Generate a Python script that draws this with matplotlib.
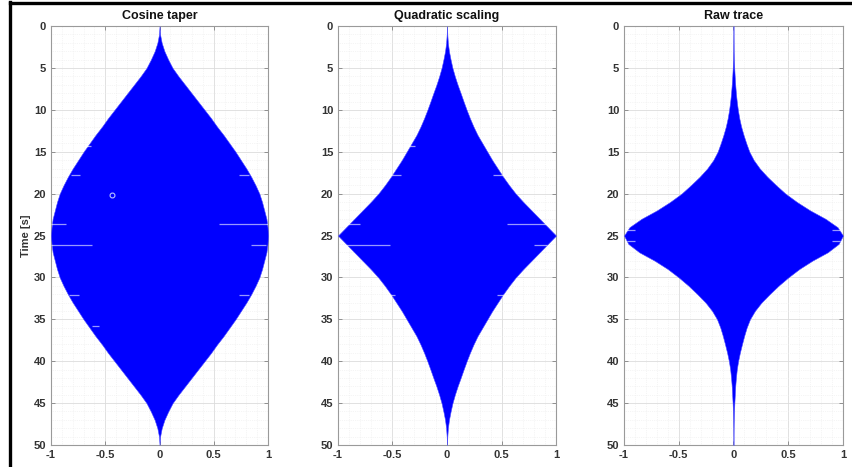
import matplotlib.pyplot as plt
import numpy as np
from matplotlib.lines import Line2D
from matplotlib.ticker import MultipleLocator

plt.rcParams['font.family'] = ['Liberation Sans', 'DejaVu Sans']
plt.rcParams['font.weight'] = 'bold'

# sample times [s] and envelope half-widths of each trace
time_s = np.arange(0, 51, 1)

cosine_env = [0.00, 0.005, 0.02, 0.045, 0.08, 0.12, 0.175, 0.235, 0.295, 0.355,
              0.415, 0.475, 0.53, 0.59, 0.645, 0.70, 0.75, 0.80, 0.845, 0.885,
              0.92, 0.945, 0.965, 0.985, 0.995, 1.00, 0.995, 0.985, 0.965, 0.945,
              0.92, 0.885, 0.845, 0.80, 0.75, 0.70, 0.645, 0.59, 0.53, 0.475,
              0.415, 0.355, 0.295, 0.235, 0.175, 0.12, 0.08, 0.045, 0.02, 0.005,
              0.00]

quad_env = [0.00, 0.003, 0.008, 0.018, 0.033, 0.05, 0.072, 0.097, 0.125, 0.152,
            0.18, 0.21, 0.243, 0.28, 0.325, 0.37, 0.415, 0.465, 0.515, 0.57,
            0.63, 0.70, 0.775, 0.85, 0.925, 1.00, 0.925, 0.85, 0.775, 0.70,
            0.63, 0.57, 0.515, 0.465, 0.415, 0.37, 0.325, 0.28, 0.243, 0.21,
            0.18, 0.152, 0.125, 0.097, 0.072, 0.05, 0.033, 0.018, 0.008, 0.003,
            0.00]

raw_env = [0.00, 0.0, 0.001, 0.002, 0.004, 0.007, 0.011, 0.016, 0.022, 0.03,
           0.04, 0.053, 0.07, 0.092, 0.117, 0.145, 0.185, 0.24, 0.31, 0.39,
           0.475, 0.58, 0.70, 0.84, 0.95, 1.00, 0.96, 0.86, 0.72, 0.60,
           0.50, 0.41, 0.33, 0.255, 0.195, 0.15, 0.12, 0.097, 0.077, 0.058,
           0.042, 0.03, 0.022, 0.016, 0.012, 0.008, 0.005, 0.003, 0.001, 0.0,
           0.00]

titles = ['Cosine taper', 'Quadratic scaling', 'Raw trace']
envelopes = [cosine_env, quad_env, raw_env]

# short gaps in the plotted trace: (time, x from, x to)
dropouts = [
    [(14.3, -0.72, -0.63), (17.8, -0.82, -0.73), (17.8, 0.73, 0.82),
     (23.6, -1.0, -0.86), (23.6, 0.55, 1.0), (26.1, -1.0, -0.62),
     (26.1, 0.84, 0.98), (32.1, -0.83, -0.74), (32.1, 0.73, 0.82),
     (35.8, -0.62, -0.56)],
    [(14.3, -0.35, -0.29), (17.8, -0.52, -0.42), (17.8, 0.42, 0.52),
     (23.6, -0.93, -0.80), (23.6, 0.55, 0.92), (26.1, -0.95, -0.52),
     (26.1, 0.80, 0.92), (32.1, -0.56, -0.48), (32.1, 0.46, 0.55)],
    [(24.3, -0.97, -0.90), (24.3, 0.90, 0.97), (25.6, -0.97, -0.90),
     (25.6, 0.90, 0.97)],
]

# picked sample on the tapered trace
pick_x, pick_t = -0.44, 20.2

x_ticks = [-1, -0.5, 0, 0.5, 1]
x_labels = ['-1', '-0.5', '0', '0.5', '1']
y_ticks = np.arange(0, 51, 5)

fig = plt.figure(figsize=(8.52, 4.67), dpi=100)
lefts = [0.0599, 0.3967, 0.7324]
widths = [0.2547, 0.2559, 0.2570]

axes = []
for i in range(3):
    ax = fig.add_axes([lefts[i], 0.0471, widths[i], 0.897])
    env = np.asarray(envelopes[i])
    ax.fill_betweenx(time_s, -env, env, color='#0000ff', lw=0.4, edgecolor='#4a4aff', zorder=3)
    for t, x0, x1 in dropouts[i]:
        ax.hlines(t, x0, x1, color='white', lw=0.9, alpha=0.6, zorder=4)

    ax.set_xlim(-1, 1)
    ax.set_ylim(50, 0)
    ax.set_xticks(x_ticks)
    ax.set_xticklabels(x_labels)
    ax.set_yticks(y_ticks)
    ax.xaxis.set_minor_locator(MultipleLocator(0.1))
    ax.yaxis.set_minor_locator(MultipleLocator(1))
    ax.grid(which='major', color='#dcdcdc', lw=0.6, zorder=0)
    ax.grid(which='minor', color='#ececec', lw=0.5, ls=':', zorder=0)
    ax.set_axisbelow(True)
    ax.tick_params(which='both', direction='in', top=True, right=True,
                   colors='#8f8f8f', labelcolor='#333333', labelsize=8)
    ax.tick_params(which='major', length=3, width=0.7)
    ax.tick_params(which='minor', length=0)
    for sp in ax.spines.values():
        sp.set_color('#9a9a9a')
        sp.set_linewidth(0.8)
    ax.set_title(titles[i], fontsize=9, fontweight='bold', color='#111111', pad=5)
    axes.append(ax)

axes[0].set_ylabel('Time [s]', fontsize=8, fontweight='bold', color='#333333', labelpad=2)
axes[0].plot(pick_x, pick_t, 'o', ms=3.5, mfc='#0000ff', mec='#b8c4ff', mew=0.8, zorder=5)

# black frame on left and top edge
fig.add_artist(Line2D([0.0112, 0.0112], [0, 0.995], color='black', lw=2.4))
fig.add_artist(Line2D([0.0112, 1.0], [0.993, 0.993], color='black', lw=2.4))

fig.savefig('out.png', dpi=100, facecolor='white')
